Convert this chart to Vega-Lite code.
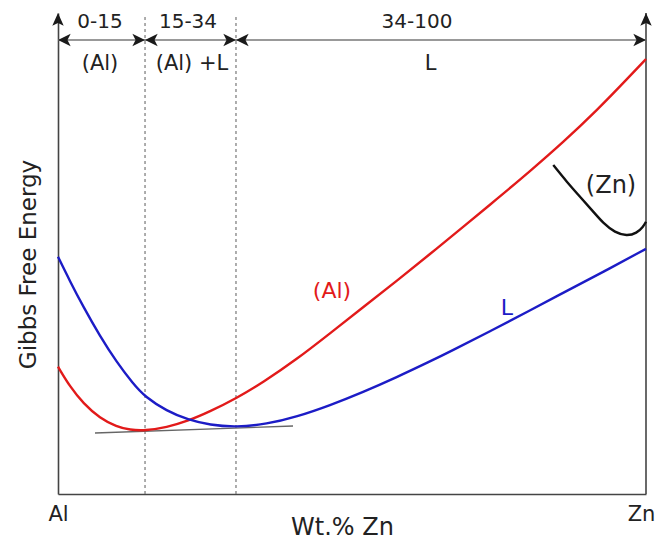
{
  "$schema": "https://vega.github.io/schema/vega-lite/v6.json",
  "width": 588,
  "height": 481,
  "autosize": "none",
  "padding": {"left": 58, "top": 13, "right": 11, "bottom": 46},
  "config": {"view": {"stroke": null}, "font": "DejaVu Sans"},
  "datasets": {
    "curves": [
      {"phase": "(Al)", "x": 0, "y": 26.47},
      {"phase": "(Al)", "x": 2.04, "y": 22.31},
      {"phase": "(Al)", "x": 4.3, "y": 18.85},
      {"phase": "(Al)", "x": 7.14, "y": 15.74},
      {"phase": "(Al)", "x": 9.98, "y": 13.99},
      {"phase": "(Al)", "x": 12.24, "y": 13.31},
      {"phase": "(Al)", "x": 14.8, "y": 13.16},
      {"phase": "(Al)", "x": 18.49, "y": 13.85},
      {"phase": "(Al)", "x": 22.11, "y": 15.18},
      {"phase": "(Al)", "x": 25.85, "y": 17.15},
      {"phase": "(Al)", "x": 30.27, "y": 19.85},
      {"phase": "(Al)", "x": 34.86, "y": 23.2},
      {"phase": "(Al)", "x": 40.6, "y": 28.0},
      {"phase": "(Al)", "x": 46.26, "y": 33.4},
      {"phase": "(Al)", "x": 51.87, "y": 38.8},
      {"phase": "(Al)", "x": 57.6, "y": 44.3},
      {"phase": "(Al)", "x": 63.27, "y": 49.9},
      {"phase": "(Al)", "x": 68.88, "y": 55.5},
      {"phase": "(Al)", "x": 74.61, "y": 61.3},
      {"phase": "(Al)", "x": 80.27, "y": 67.1},
      {"phase": "(Al)", "x": 85.88, "y": 73.1},
      {"phase": "(Al)", "x": 91.62, "y": 79.7},
      {"phase": "(Al)", "x": 97.28, "y": 86.9},
      {"phase": "(Al)", "x": 100, "y": 90.44},
      {"phase": "L", "x": 0, "y": 49.33},
      {"phase": "L", "x": 2.04, "y": 44.23},
      {"phase": "L", "x": 4.3, "y": 38.92},
      {"phase": "L", "x": 7.14, "y": 32.81},
      {"phase": "L", "x": 9.98, "y": 27.41},
      {"phase": "L", "x": 12.76, "y": 22.96},
      {"phase": "L", "x": 14.8, "y": 20.21},
      {"phase": "L", "x": 18.49, "y": 17.26},
      {"phase": "L", "x": 22.11, "y": 15.45},
      {"phase": "L", "x": 25.85, "y": 14.33},
      {"phase": "L", "x": 30.27, "y": 13.89},
      {"phase": "L", "x": 35.49, "y": 14.52},
      {"phase": "L", "x": 40.6, "y": 16.05},
      {"phase": "L", "x": 46.26, "y": 18.43},
      {"phase": "L", "x": 51.87, "y": 21.18},
      {"phase": "L", "x": 57.6, "y": 24.27},
      {"phase": "L", "x": 63.27, "y": 27.56},
      {"phase": "L", "x": 66.67, "y": 29.6},
      {"phase": "L", "x": 73.47, "y": 33.82},
      {"phase": "L", "x": 80.27, "y": 38.17},
      {"phase": "L", "x": 85.88, "y": 41.82},
      {"phase": "L", "x": 91.62, "y": 45.44},
      {"phase": "L", "x": 100, "y": 50.97},
      {"phase": "(Zn)", "x": 84.23, "y": 68.4},
      {"phase": "(Zn)", "x": 86.51, "y": 64.93},
      {"phase": "(Zn)", "x": 88.78, "y": 61.81},
      {"phase": "(Zn)", "x": 91.04, "y": 58.69},
      {"phase": "(Zn)", "x": 92.74, "y": 56.28},
      {"phase": "(Zn)", "x": 94.73, "y": 54.33},
      {"phase": "(Zn)", "x": 96.72, "y": 53.64},
      {"phase": "(Zn)", "x": 98.42, "y": 54.2},
      {"phase": "(Zn)", "x": 99.54, "y": 55.57},
      {"phase": "(Zn)", "x": 100, "y": 56.61}
    ],
    "tangent": [
      {"x": 6.29, "y": 12.68},
      {"x": 39.97, "y": 14.14}
    ],
    "boundaries": [
      {"x": 14.8, "y": 0, "y2": 99.2},
      {"x": 30.27, "y": 0, "y2": 99.2}
    ],
    "border": [
      {"x": 100, "y": 0, "y2": 100}
    ],
    "span": [
      {"x": 0, "x2": 100, "y": 94.39}
    ],
    "heads": [
      {"x": 0, "y": 94.39, "dir": "left"},
      {"x": 14.8, "y": 94.39, "dir": "right"},
      {"x": 14.8, "y": 94.39, "dir": "left"},
      {"x": 30.27, "y": 94.39, "dir": "right"},
      {"x": 30.27, "y": 94.39, "dir": "left"},
      {"x": 100, "y": 94.39, "dir": "right"},
      {"x": 0, "y": 100, "dir": "up"},
      {"x": 100, "y": 100, "dir": "up"}
    ],
    "ranges": [
      {"x": 7.14, "y": 96.88, "label": "0-15"},
      {"x": 22.11, "y": 96.88, "label": "15-34"},
      {"x": 61.05, "y": 96.88, "label": "34-100"}
    ],
    "phases": [
      {"x": 7.14, "y": 88.15, "label": "(Al)"},
      {"x": 22.79, "y": 88.15, "label": "(Al) +L"},
      {"x": 63.35, "y": 88.15, "label": "L"}
    ],
    "alLabel": [{"x": 46.6, "y": 40.75, "label": "(Al)"}],
    "lLabel": [{"x": 76.36, "y": 37.21, "label": "L"}],
    "znLabel": [{"x": 94.05, "y": 62.58, "label": "(Zn)"}]
  },
  "encoding": {
    "x": {
      "field": "x",
      "type": "quantitative",
      "scale": {"domain": [0, 100], "nice": false, "zero": false},
      "axis": {
        "title": "Wt.% Zn",
        "values": [0, 100],
        "labelExpr": "datum.value == 0 ? 'Al' : 'Zn'",
        "ticks": false,
        "grid": false,
        "domainColor": "#444444",
        "domainWidth": 1.6,
        "labelFontSize": 21,
        "labelColor": "#222222",
        "labelBaseline": "alphabetic",
        "labelPadding": 26,
        "labelFlush": false,
        "labelOverlap": false,
        "labelOffset": {"condition": {"test": "datum.value == 100", "value": -5}, "value": 0},
        "titleFontSize": 24,
        "titleFontWeight": "normal",
        "titleColor": "#222222",
        "titleX": 284,
        "titleY": 40,
        "titleBaseline": "alphabetic",
        "titleAlign": "center"
      }
    },
    "y": {
      "field": "y",
      "type": "quantitative",
      "scale": {"domain": [0, 100], "nice": false, "zero": false},
      "axis": {
        "title": "Gibbs Free Energy",
        "ticks": false,
        "labels": false,
        "grid": false,
        "domainColor": "#444444",
        "domainWidth": 1.6,
        "titleFontSize": 23,
        "titleFontWeight": "normal",
        "titleColor": "#222222",
        "titleAngle": 270,
        "titleX": -23,
        "titleY": 251,
        "titleBaseline": "alphabetic",
        "titleAlign": "center"
      }
    }
  },
  "layer": [
    {
      "data": {"name": "boundaries"},
      "mark": {"type": "rule", "color": "#777777", "strokeWidth": 1.2, "strokeDash": [3, 3]},
      "encoding": {"y2": {"field": "y2"}}
    },
    {
      "data": {"name": "border"},
      "mark": {"type": "rule", "color": "#444444", "strokeWidth": 1.6},
      "encoding": {"y2": {"field": "y2"}}
    },
    {
      "data": {"name": "span"},
      "mark": {"type": "rule", "color": "#777777", "strokeWidth": 1.6},
      "encoding": {"x2": {"field": "x2"}}
    },
    {
      "data": {"name": "heads"},
      "mark": {"type": "point", "filled": true, "opacity": 1, "size": 160, "color": "#1a1a1a", "strokeWidth": 0},
      "encoding": {
        "shape": {
          "field": "dir",
          "type": "nominal",
          "scale": {
            "domain": ["left", "right", "up"],
            "range": [
              "M0,0 L2,-1 L1.5,0 L2,1 Z",
              "M0,0 L-2,-1 L-1.5,0 L-2,1 Z",
              "M0,0 L-0.9,2 L0,1.6 L0.9,2 Z"
            ]
          },
          "legend": null
        }
      }
    },
    {
      "data": {"name": "tangent"},
      "mark": {"type": "line", "color": "#666666", "strokeWidth": 1.3},
      "encoding": {}
    },
    {
      "data": {"name": "curves"},
      "mark": {"type": "line", "strokeWidth": 2.4, "interpolate": "basis"},
      "encoding": {
        "color": {
          "field": "phase",
          "type": "nominal",
          "scale": {"domain": ["(Al)", "L", "(Zn)"], "range": ["#e21a1a", "#1c1cc6", "#111111"]},
          "legend": null
        }
      }
    },
    {
      "data": {"name": "ranges"},
      "mark": {"type": "text", "fontSize": 20, "color": "#222222", "align": "center", "baseline": "alphabetic"},
      "encoding": {"text": {"field": "label"}}
    },
    {
      "data": {"name": "phases"},
      "mark": {"type": "text", "fontSize": 21, "color": "#222222", "align": "center", "baseline": "alphabetic"},
      "encoding": {"text": {"field": "label"}}
    },
    {
      "data": {"name": "alLabel"},
      "mark": {"type": "text", "fontSize": 22, "color": "#e21a1a", "align": "center", "baseline": "alphabetic"},
      "encoding": {"text": {"field": "label"}}
    },
    {
      "data": {"name": "lLabel"},
      "mark": {"type": "text", "fontSize": 22, "color": "#1c1cc6", "align": "center", "baseline": "alphabetic"},
      "encoding": {"text": {"field": "label"}}
    },
    {
      "data": {"name": "znLabel"},
      "mark": {"type": "text", "fontSize": 24, "color": "#222222", "align": "center", "baseline": "alphabetic"},
      "encoding": {"text": {"field": "label"}}
    }
  ]
}
